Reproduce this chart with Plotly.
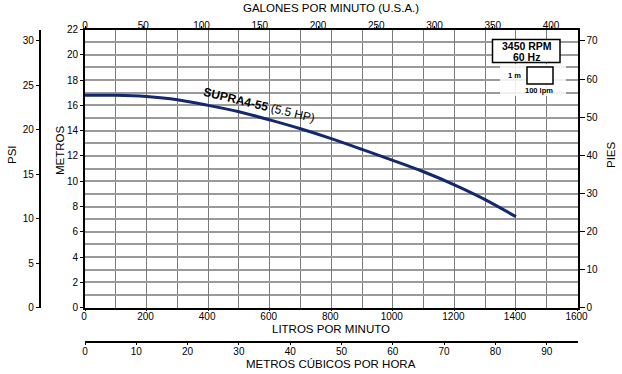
import plotly.graph_objects as go

# ---- data ----
lpm = [0, 100, 200, 300, 400, 500, 600, 700, 800, 900, 1000, 1100, 1200, 1300, 1400]
metros = [16.8, 16.8, 16.7, 16.45, 16.0, 15.5, 14.85, 14.15, 13.37, 12.52, 11.65, 10.75, 9.72, 8.55, 7.2]
series_name = "<b>SUPRA4-55</b> (5.5 HP)"
rpm_text = ["3450 RPM", "60 Hz"]

LPM_MAX = 1600
M_MAX = 22
GPM_MAX = LPM_MAX / 3.785412
M3H_MAX = LPM_MAX * 60 / 1000
PSI_MAX = M_MAX / 0.70307
PIES_MAX = 73

W, H = 622, 374
FONT = "Liberation Sans Narrow, Arial Narrow, Liberation Sans, Arial, sans-serif"
BFONT = "Liberation Sans, Arial, sans-serif"

def px(x):
    return x / W

def py(y):
    return 1 - y / H

xdom = [px(85), px(577.5)]
ydom = [py(307.7), py(29.5)]

fig = go.Figure()
fig.add_trace(go.Scatter(x=lpm, y=metros, mode="lines",
                         line=dict(color="#14286e", width=3, shape="spline", smoothing=0.8),
                         showlegend=False, hoverinfo="skip"))

tickfont = dict(family=FONT, size=10, color="black")
grid_h = "#9a9a9a"
grid_v = "#7a7a7a"

fig.update_layout(
    width=W, height=H,
    margin=dict(l=0, r=0, t=0, b=0),
    paper_bgcolor="white", plot_bgcolor="white",
    font=dict(family=FONT, color="black"),
    showlegend=False,
    xaxis=dict(domain=xdom, range=[0, LPM_MAX], dtick=200, tick0=0,
               showgrid=True, gridcolor=grid_v, gridwidth=1.3,
               minor=dict(dtick=100, showgrid=True, gridcolor=grid_v, gridwidth=1.3),
               showline=True, linecolor="black", linewidth=2,
               ticks="outside", ticklen=1, tickcolor="black", ticklabelstandoff=-3,
               ticklabelshift=-1,
               tickfont=tickfont, zeroline=False, automargin=False, anchor="y"),
    yaxis=dict(domain=ydom, range=[0, M_MAX], dtick=2, tick0=0,
               showgrid=True, gridcolor=grid_h, gridwidth=1.6,
               minor=dict(dtick=1, showgrid=True, gridcolor=grid_h, gridwidth=1.6),
               showline=True, linecolor="black", linewidth=2,
               ticks="outside", ticklen=3, tickcolor="black",
               tickfont=tickfont, zeroline=False, automargin=False, anchor="x"),
    xaxis2=dict(overlaying="x", side="top", anchor="y", range=[0, GPM_MAX],
                dtick=50, tick0=0, showgrid=False, showline=True,
                linecolor="black", linewidth=2, ticks="outside", ticklen=2,
                ticklabelstandoff=-7,
                tickcolor="black", tickfont=tickfont, zeroline=False, automargin=False),
    xaxis3=dict(overlaying="x", side="bottom", anchor="free", position=py(342),
                range=[0, M3H_MAX], dtick=10, tick0=0, showgrid=False,
                showline=True, linecolor="black", linewidth=1.5, ticks="outside",
                ticklen=2, tickcolor="black", tickfont=tickfont, zeroline=False,
                ticklabelstandoff=-2, automargin=False),
    yaxis2=dict(overlaying="y", side="left", anchor="free", position=px(39.5),
                range=[0, PSI_MAX], dtick=5, tick0=0, showgrid=False,
                showline=True, linecolor="black", linewidth=1.5, ticks="outside",
                ticklen=3, tickcolor="black", tickfont=tickfont, zeroline=False,
                automargin=False),
    yaxis3=dict(overlaying="y", side="right", anchor="x", range=[0, PIES_MAX],
                dtick=10, tick0=0, showgrid=False, showline=True,
                linecolor="black", linewidth=2, ticks="outside", ticklen=5,
                tickcolor="black", tickfont=tickfont, zeroline=False, automargin=False),
)

# dummy traces to activate auxiliary axes
fig.add_trace(go.Scatter(x=[None], y=[None], xaxis="x2", yaxis="y", showlegend=False))
fig.add_trace(go.Scatter(x=[None], y=[None], xaxis="x3", yaxis="y", showlegend=False))
fig.add_trace(go.Scatter(x=[None], y=[None], xaxis="x", yaxis="y2", showlegend=False))
fig.add_trace(go.Scatter(x=[None], y=[None], xaxis="x", yaxis="y3", showlegend=False))

titlefont = dict(family=FONT, size=11.5, color="black")
ann = [
    dict(text="GALONES POR MINUTO (U.S.A.)", x=px(331), y=py(8)),
    dict(text="LITROS POR MINUTO", x=px(331), y=py(328.5)),
    dict(text="METROS CÚBICOS POR HORA", x=px(331), y=py(364)),
    dict(text="PSI", x=px(12), y=py(155), textangle=-90),
    dict(text="METROS", x=px(60), y=py(150), textangle=-90),
    dict(text="PIES", x=px(611), y=py(155), textangle=-90),
]
for a in ann:
    fig.add_annotation(xref="paper", yref="paper", showarrow=False,
                       xanchor="center", yanchor="middle", font=titlefont, **a)

# curve label
fig.add_annotation(xref="x", yref="y", x=565, y=16.0, text=series_name,
                   showarrow=False, textangle=13.5, xanchor="center", yanchor="middle",
                   font=dict(family=BFONT, size=12, color="black"))

# RPM box
fig.add_shape(type="rect", xref="paper", yref="paper",
              x0=px(492.5), x1=px(560), y0=py(62.5), y1=py(39.5),
              line=dict(color="black", width=1.5), fillcolor="white", layer="above")
for txt, yy in zip(rpm_text, [45.5, 56.5]):
    fig.add_annotation(xref="paper", yref="paper", x=px(526.5), y=py(yy), text="<b>%s</b>" % txt,
                       showarrow=False, xanchor="center", yanchor="middle",
                       font=dict(family=BFONT, size=10.5, color="black"))

# scale legend
fig.add_shape(type="rect", xref="paper", yref="paper",
              x0=px(500), x1=px(566), y0=py(96), y1=py(64),
              line=dict(width=0), fillcolor="rgba(255,255,255,0.85)", layer="above")
fig.add_shape(type="rect", xref="paper", yref="paper",
              x0=px(527), x1=px(553), y0=py(84), y1=py(67),
              line=dict(color="black", width=1.5), fillcolor="white", layer="above")
fig.add_annotation(xref="paper", yref="paper", x=px(523), y=py(75.5), text="<b>1 m</b>",
                   showarrow=False, xanchor="right", yanchor="middle",
                   font=dict(family=BFONT, size=7.5, color="black"))
fig.add_annotation(xref="paper", yref="paper", x=px(539), y=py(91), text="<b>100 lpm</b>",
                   showarrow=False, xanchor="center", yanchor="middle",
                   font=dict(family=BFONT, size=7.5, color="black"))

fig.write_html("out.html")
